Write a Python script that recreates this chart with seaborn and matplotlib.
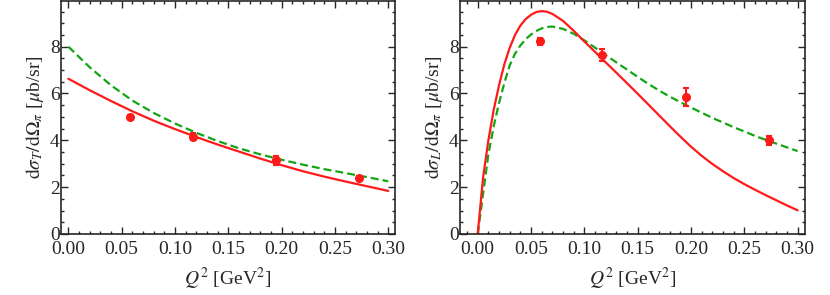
import numpy as np
import pandas as pd
import matplotlib
matplotlib.use('Agg')
import matplotlib.pyplot as plt
from matplotlib.ticker import MultipleLocator, FormatStrFormatter
import seaborn as sns

# transverse cross section (left panel)
q2_T = [0.0, 0.02, 0.04, 0.06, 0.08, 0.10, 0.12, 0.14, 0.16, 0.18, 0.20, 0.22, 0.24, 0.26, 0.28, 0.30]
sigT_solid = [6.63, 6.14, 5.68, 5.24, 4.84, 4.48, 4.14, 3.82, 3.52, 3.22, 2.94, 2.68, 2.45, 2.24, 2.04, 1.84]
sigT_dashed = [8.00, 7.12, 6.35, 5.70, 5.17, 4.72, 4.32, 3.97, 3.66, 3.40, 3.17, 2.96, 2.77, 2.60, 2.43, 2.25]

# longitudinal cross section (right panel)
q2_L = [0.0, 0.005, 0.01, 0.015, 0.02, 0.025, 0.03, 0.035, 0.04, 0.045, 0.05, 0.055, 0.06,
        0.065, 0.07, 0.08, 0.09, 0.10, 0.11, 0.12, 0.13, 0.14, 0.15, 0.16, 0.17, 0.18,
        0.19, 0.20, 0.21, 0.22, 0.23, 0.24, 0.25, 0.26, 0.27, 0.28, 0.29, 0.30]
sigL_solid = [0.0, 2.4, 4.0, 5.3, 6.35, 7.25, 7.95, 8.50, 8.90, 9.18, 9.36, 9.48, 9.52,
              9.49, 9.40, 9.10, 8.68, 8.22, 7.78, 7.33, 6.89, 6.44, 5.99, 5.53, 5.07, 4.61,
              4.16, 3.73, 3.34, 2.99, 2.68, 2.39, 2.13, 1.89, 1.66, 1.44, 1.22, 1.01]
sigL_dashed = [0.0, 1.7, 3.4, 4.6, 5.6, 6.45, 7.20, 7.70, 8.05, 8.32, 8.52, 8.67, 8.78,
               8.84, 8.86, 8.76, 8.55, 8.27, 7.96, 7.64, 7.33, 7.02, 6.71, 6.41, 6.13, 5.87,
               5.63, 5.40, 5.18, 4.96, 4.76, 4.56, 4.38, 4.19, 4.02, 3.86, 3.70, 3.54]

# data points
q2_data = [0.058, 0.117, 0.195, 0.273]
sigT_data = [4.99, 4.15, 3.14, 2.40]
sigT_err = [0.08, 0.15, 0.18, 0.08]
sigL_data = [8.23, 7.63, 5.85, 4.0]
sigL_err = [0.15, 0.25, 0.40, 0.18]

sns.set_style('ticks')
plt.rcParams['font.family'] = ['Liberation Serif', 'DejaVu Serif']
plt.rcParams['mathtext.fontset'] = 'stix'

red = '#ff1a1a'
green = '#14a514'
fs = 14

fig = plt.figure(figsize=(8.3, 2.95), dpi=100)
axL = fig.add_axes([61 / 830, 61 / 295, 334 / 830, 233 / 295])
axR = fig.add_axes([460 / 830, 61 / 295, 345 / 830, 233 / 295])

panels = [
    (axL, q2_T, sigT_solid, sigT_dashed, sigT_data, sigT_err,
     r'$\mathrm{d}\sigma_T/\mathrm{d}\Omega_\pi$ [$\mu$b/sr]', (-0.0069, 0.3063)),
    (axR, q2_L, sigL_solid, sigL_dashed, sigL_data, sigL_err,
     r'$\mathrm{d}\sigma_L/\mathrm{d}\Omega_\pi$ [$\mu$b/sr]', (-0.0166, 0.3069)),
]

for ax, xs, solid, dashed, yd, ed, ylab, xl in panels:
    sns.lineplot(x=xs, y=dashed, ax=ax, color=green, lw=1.6)
    ax.lines[-1].set_dashes((3.6, 1.8))
    sns.lineplot(x=xs, y=solid, ax=ax, color=red, lw=1.6)
    ax.errorbar(q2_data, yd, yerr=ed, fmt='o', color=red, ms=5.5,
                elinewidth=1.5, capsize=2.5, capthick=1.5, zorder=5)
    ax.set_xlim(*xl)
    ax.set_ylim(0, 9.95)
    ax.xaxis.set_major_locator(MultipleLocator(0.05))
    ax.xaxis.set_minor_locator(MultipleLocator(0.01))
    ax.xaxis.set_major_formatter(FormatStrFormatter('%.2f'))
    ax.yaxis.set_major_locator(MultipleLocator(2))
    ax.yaxis.set_minor_locator(MultipleLocator(0.5))
    ax.tick_params(which='both', direction='in', top=True, right=True,
                   labelsize=fs, width=1)
    ax.tick_params(axis='x', pad=5)
    ax.tick_params(axis='y', pad=1)
    ax.tick_params(which='major', length=5)
    ax.tick_params(which='minor', length=2.5)
    for s in ax.spines.values():
        s.set_linewidth(1.2)
    # nudge the "0" y label up a little so it clears "0.00"
    for lab in ax.get_yticklabels():
        lab.set_verticalalignment('center_baseline')
    ax.set_xlabel(r'$Q^2$ [GeV$^2$]', fontsize=fs, labelpad=6)
    ax.set_ylabel(ylab, fontsize=fs, labelpad=3)

fig.savefig('out.png', dpi=100)
